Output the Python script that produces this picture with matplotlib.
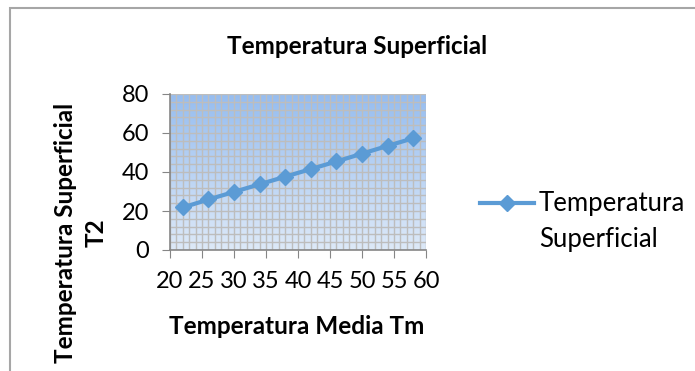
import matplotlib
matplotlib.use("Agg")
import matplotlib.pyplot as plt
import numpy as np
from matplotlib.patches import Rectangle
from matplotlib.ticker import MultipleLocator
from matplotlib.colors import LinearSegmentedColormap

plt.rcParams['font.family'] = ['Lato', 'DejaVu Sans']

# mean temperature Tm vs surface temperature T2
tm = [22, 26, 30, 34, 38, 42, 46, 50, 54, 58]
t2 = [21.8, 25.9, 29.8, 33.7, 37.6, 41.5, 45.4, 49.4, 53.4, 57.3]

title = "Temperatura Superficial"
xlabel = "Temperatura Media Tm"
ylabel = "Temperatura Superficial\nT2"
series_name = ["Temperatura", "Superficial"]

W, H = 695, 371
fig = plt.figure(figsize=(W / 100, H / 100), dpi=100)

def px(x, y):
    return x / W, 1 - y / H

# outer chart frame
fig.patches.append(Rectangle((10 / W, -0.05), 1.2, 1 - 8 / H + 0.05,
                             transform=fig.transFigure, fill=False,
                             edgecolor="#a6a6a6", linewidth=1.5))

ax = fig.add_axes([170 / W, (H - 250) / H, 256 / W, 156 / H])
ax.set_xlim(20, 60)
ax.set_ylim(0, 80)

# gradient plot area
grad = np.linspace(0, 1, 256).reshape(-1, 1)
cmap = LinearSegmentedColormap.from_list("bg", ["#dde9f8", "#96bdf0"])
ax.imshow(grad, cmap=cmap, extent=[20, 60, 0, 80], origin="lower",
          aspect="auto", zorder=0)

ax.xaxis.set_major_locator(MultipleLocator(5))
ax.xaxis.set_minor_locator(MultipleLocator(1))
ax.yaxis.set_major_locator(MultipleLocator(20))
ax.yaxis.set_minor_locator(MultipleLocator(4))
ax.grid(which="both", color="#bdbdbd", linewidth=1.0, zorder=1)
ax.set_axisbelow(True)

ax.plot(tm, t2, color="#5b9bd5", linewidth=3, marker="D", markersize=8,
        zorder=3, label=series_name[0])

for s in ["top", "right"]:
    ax.spines[s].set_visible(False)
for s in ["left", "bottom"]:
    ax.spines[s].set_color("#868686")
    ax.spines[s].set_linewidth(1.2)
ax.tick_params(which="major", length=6, color="#868686", labelsize=17)
ax.tick_params(axis="y", which="major", pad=9)
ax.tick_params(axis="x", which="major", pad=9)
ax.tick_params(which="minor", length=0)

fig.text(*px(297, 327), xlabel, fontsize=17.5, fontweight="bold",
         ha="center", va="center")
fig.text(*px(81, 233), ylabel, fontsize=17.5, fontweight="bold",
         ha="center", va="center", rotation=90, multialignment="center",
         linespacing=1.4)
fig.text(*px(357, 47), title, fontsize=17.5, fontweight="bold",
         ha="center", va="center")

leg = fig.legend(loc="center left", bbox_to_anchor=px(480, 204),
                 frameon=False, fontsize=18.5, handlelength=2.1,
                 handletextpad=0.2, borderaxespad=0, borderpad=0)

# second line of the legend entry, set under the first
fig.canvas.draw()
bb = leg.get_texts()[0].get_window_extent()
fig.text(bb.x0 / W, (bb.y0 + bb.y1) / 2 / H - 35 / H, series_name[1],
         fontsize=18.5, ha="left", va="center")

fig.savefig("out.png", dpi=100)
